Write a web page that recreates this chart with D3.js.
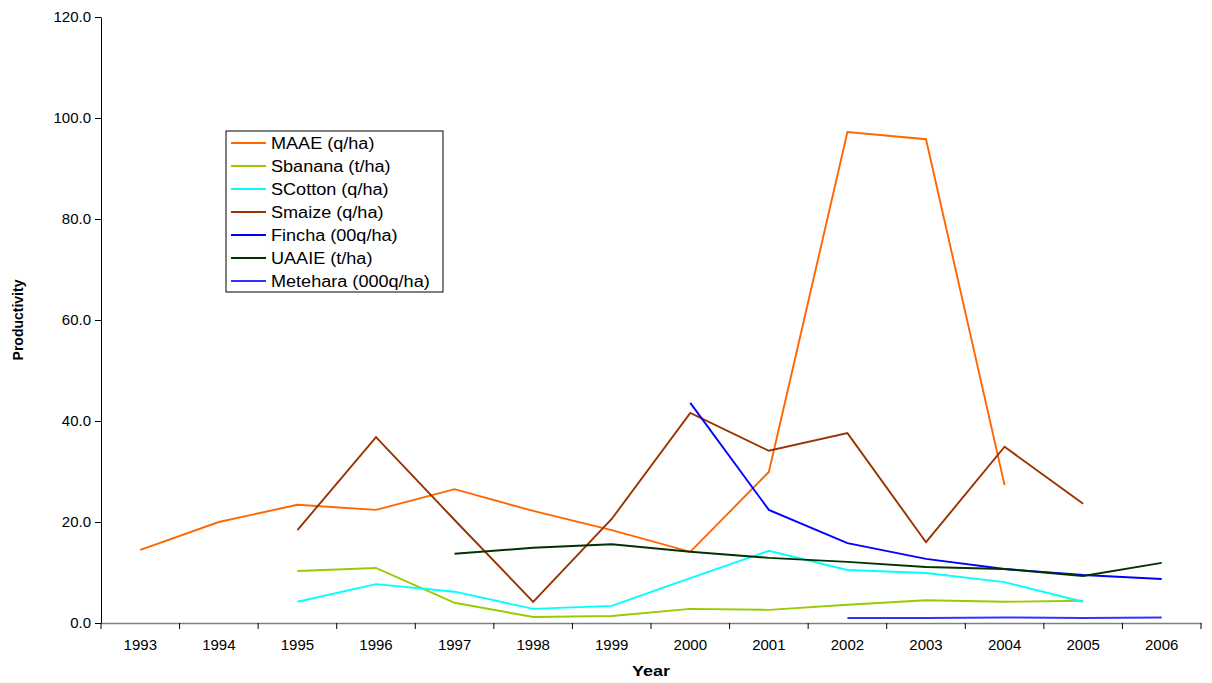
<!DOCTYPE html>
<html>
<head>
<meta charset="utf-8">
<script src="https://cdn.jsdelivr.net/npm/d3@7"></script>
<style>
  body { margin: 0; background: #fff; }
  text { font-family: Arial, "Liberation Sans", sans-serif; }
</style>
</head>
<body>
<div id="chart"></div>
<script>
// data
const years = ["1993", "1994", "1995", "1996", "1997", "1998", "1999", "2000", "2001", "2002", "2003", "2004", "2005", "2006"];
const yTicks = [0, 20, 40, 60, 80, 100, 120];

const maae     = [14.5, 20.0, 23.4, 22.4, 26.5, 22.2, 18.4, 14.1, 29.9, 97.2, 95.8, 27.3, null, null];
const sbanana  = [null, null, 10.3, 10.9, 4.0, 1.2, 1.4, 2.8, 2.6, 3.6, 4.5, 4.2, 4.4, null];
const scotton  = [null, null, 4.2, 7.7, 6.2, 2.8, 3.4, 8.9, 14.3, 10.5, 9.9, 8.1, 4.2, null];
const smaize   = [null, null, 18.4, 36.8, 20.4, 4.2, 20.6, 41.6, 34.1, 37.6, 16.0, 34.9, 23.6, null];
const fincha   = [null, null, null, null, null, null, null, 43.6, 22.4, 15.8, 12.7, 10.7, 9.5, 8.7];
const uaaie    = [null, null, null, null, 13.7, 14.9, 15.6, 14.1, 12.9, 12.1, 11.1, 10.7, 9.3, 11.9];
const metehara = [null, null, null, null, null, null, null, null, null, 1.0, 1.0, 1.1, 1.0, 1.1];

const seriesNames  = ["MAAE (q/ha)", "Sbanana (t/ha)", "SCotton (q/ha)", "Smaize (q/ha)", "Fincha (00q/ha)", "UAAIE (t/ha)", "Metehara (000q/ha)"];
const seriesValues = [maae, sbanana, scotton, smaize, fincha, uaaie, metehara];
const seriesColors = ["#FF6600", "#99CC00", "#00FFFF", "#993300", "#0000FF", "#003300", "#3333FF"];

const width = 1212, height = 683;
const margin = { top: 17, right: 11, bottom: 60, left: 101 };

const svg = d3.select("#chart").append("svg")
  .attr("width", width)
  .attr("height", height);

const x = d3.scaleBand()
  .domain(years)
  .range([margin.left, width - margin.right]);

const y = d3.scaleLinear()
  .domain([0, 120])
  .range([height - margin.bottom, margin.top]);

// x axis
const xAxis = svg.append("g")
  .attr("transform", `translate(0,${y(0)})`)
  .call(d3.axisBottom(x).tickSize(0).tickPadding(16));
xAxis.select(".domain").attr("stroke", "#808080").attr("stroke-width", 1.5);
xAxis.selectAll("text").attr("font-size", 15).attr("fill", "#000");

// tick marks sit on the band edges
xAxis.selectAll(".bound")
  .data(d3.range(years.length + 1))
  .join("line")
  .attr("class", "bound")
  .attr("x1", i => margin.left + i * x.step())
  .attr("x2", i => margin.left + i * x.step())
  .attr("y1", 0)
  .attr("y2", 6)
  .attr("stroke", "#000");

// y axis
const yAxis = svg.append("g")
  .attr("transform", `translate(${margin.left},0)`)
  .call(d3.axisLeft(y).tickValues(yTicks).tickFormat(d3.format(".1f")).tickSize(6).tickPadding(4).tickSizeOuter(0));
yAxis.select(".domain").attr("stroke", "#000");
yAxis.selectAll("text").attr("font-size", 15).attr("fill", "#000");

// axis titles
svg.append("text")
  .attr("transform", `translate(${(margin.left + width - margin.right) / 2},676) scale(1.2,1)`)
  .attr("text-anchor", "middle")
  .attr("font-size", 15)
  .attr("font-weight", "bold")
  .text("Year");

svg.append("text")
  .attr("transform", `translate(23,${(y(0) + y(120)) / 2}) rotate(-90)`)
  .attr("text-anchor", "middle")
  .attr("font-size", 14)
  .attr("font-weight", "bold")
  .text("Productivity");

// lines
const line = d3.line()
  .defined(d => d != null)
  .x((d, i) => x(years[i]) + x.bandwidth() / 2)
  .y(d => y(d));

svg.append("g")
  .selectAll("path")
  .data(seriesValues)
  .join("path")
  .attr("fill", "none")
  .attr("stroke", (d, i) => seriesColors[i])
  .attr("stroke-width", 1.9)
  .attr("d", d => line(d));

// legend
const legend = svg.append("g").attr("transform", "translate(226,131)");
legend.append("rect")
  .attr("width", 217)
  .attr("height", 161)
  .attr("fill", "#fff")
  .attr("stroke", "#000");

const item = legend.selectAll(".item")
  .data(seriesNames)
  .join("g")
  .attr("class", "item")
  .attr("transform", (d, i) => `translate(0,${12 + i * 23})`);

item.append("line")
  .attr("x1", 5).attr("x2", 40)
  .attr("stroke", (d, i) => seriesColors[i])
  .attr("stroke-width", 1.9);

item.append("text")
  .attr("transform", "translate(45,0) scale(1.13,1)")
  .attr("dy", "0.35em")
  .attr("font-size", 16)
  .text(d => d);
</script>
</body>
</html>
